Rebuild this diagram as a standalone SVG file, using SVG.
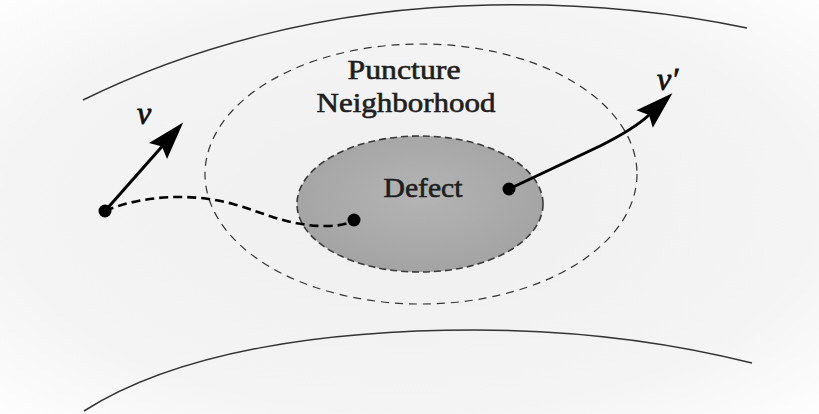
<svg xmlns="http://www.w3.org/2000/svg" width="819" height="414" viewBox="0 0 819 414">
  <defs>
    <radialGradient id="bg" cx="0.5" cy="0.5" r="0.7">
      <stop offset="0" stop-color="#efefef"/>
      <stop offset="0.7" stop-color="#f4f4f4"/>
      <stop offset="1" stop-color="#fdfdfd"/>
    </radialGradient>
    <radialGradient id="defectFill" cx="0.5" cy="0.45" r="0.6">
      <stop offset="0" stop-color="#b4b4b4"/>
      <stop offset="1" stop-color="#a2a2a2"/>
    </radialGradient>
    <marker id="head" markerUnits="userSpaceOnUse" markerWidth="44" markerHeight="28" viewBox="-8 -14 44 28" refX="0" refY="0" orient="auto">
      <path d="M0,0 L-6,-12 L32,0 L-6,12 Z" fill="#000"/>
    </marker>
    <style>
      .edge { fill: none; stroke: #333; stroke-width: 1.5; }
      .label { font-family: "Liberation Serif", "Times New Roman", serif; font-weight: normal; fill: #1e1e1e; stroke: #1e1e1e; stroke-width: 0.6; font-size: 27px; }
      .vec { font-family: "Liberation Serif", "Times New Roman", serif; font-style: italic; fill: #111; stroke: #111; stroke-width: 0.8; font-size: 32px; }
      .arrow { fill: none; stroke: #000; stroke-width: 3; marker-end: url(#head); }
      .dot { fill: #000; }
    </style>
  </defs>

  <rect x="0" y="0" width="819" height="414" fill="url(#bg)"/>

  <g id="surface">
    <path class="edge" d="M83,100 C180,52 320,8 490,5 C590,3 680,14 747,28"/>
    <path class="edge" d="M84,411 C180,350 330,330 475,330 C590,330 680,345 752,363"/>
  </g>

  <g id="puncture-neighborhood">
    <ellipse cx="421" cy="174" rx="216" ry="130" fill="none" stroke="#333" stroke-width="1.2" stroke-dasharray="8 6"/>
    <text class="label" x="404" y="79" text-anchor="middle" textLength="113" lengthAdjust="spacingAndGlyphs">Puncture</text>
    <text class="label" x="406" y="112" text-anchor="middle" textLength="179" lengthAdjust="spacingAndGlyphs">Neighborhood</text>
  </g>

  <g id="defect">
    <ellipse cx="420" cy="204" rx="123" ry="68" fill="url(#defectFill)" stroke="#3a3a3a" stroke-width="1.6" stroke-dasharray="7 4"/>
    <text class="label" x="423" y="197" text-anchor="middle" textLength="79" lengthAdjust="spacingAndGlyphs" font-size="25">Defect</text>
  </g>

  <g id="connectors">
    <path d="M105,211 C140,196 190,192 233,204 C265,213 290,227 330,226 Q348,225 354,220" fill="none" stroke="#000" stroke-width="2.6" stroke-dasharray="9 5"/>
    <path class="arrow" d="M105,211 L162,146.5"/>
    <path class="arrow" d="M509,189 L600,146 Q634,129 649,115" stroke-width="2.6"/>
  </g>

  <g id="points">
    <circle class="dot" cx="105" cy="211" r="6.5"/>
    <circle class="dot" cx="354" cy="220" r="6.5"/>
    <circle class="dot" cx="509" cy="189" r="6.5"/>
  </g>

  <g id="vectors">
    <text class="vec" x="137" y="124">v</text>
    <text class="vec" x="657" y="90">v′</text>
  </g>
</svg>
